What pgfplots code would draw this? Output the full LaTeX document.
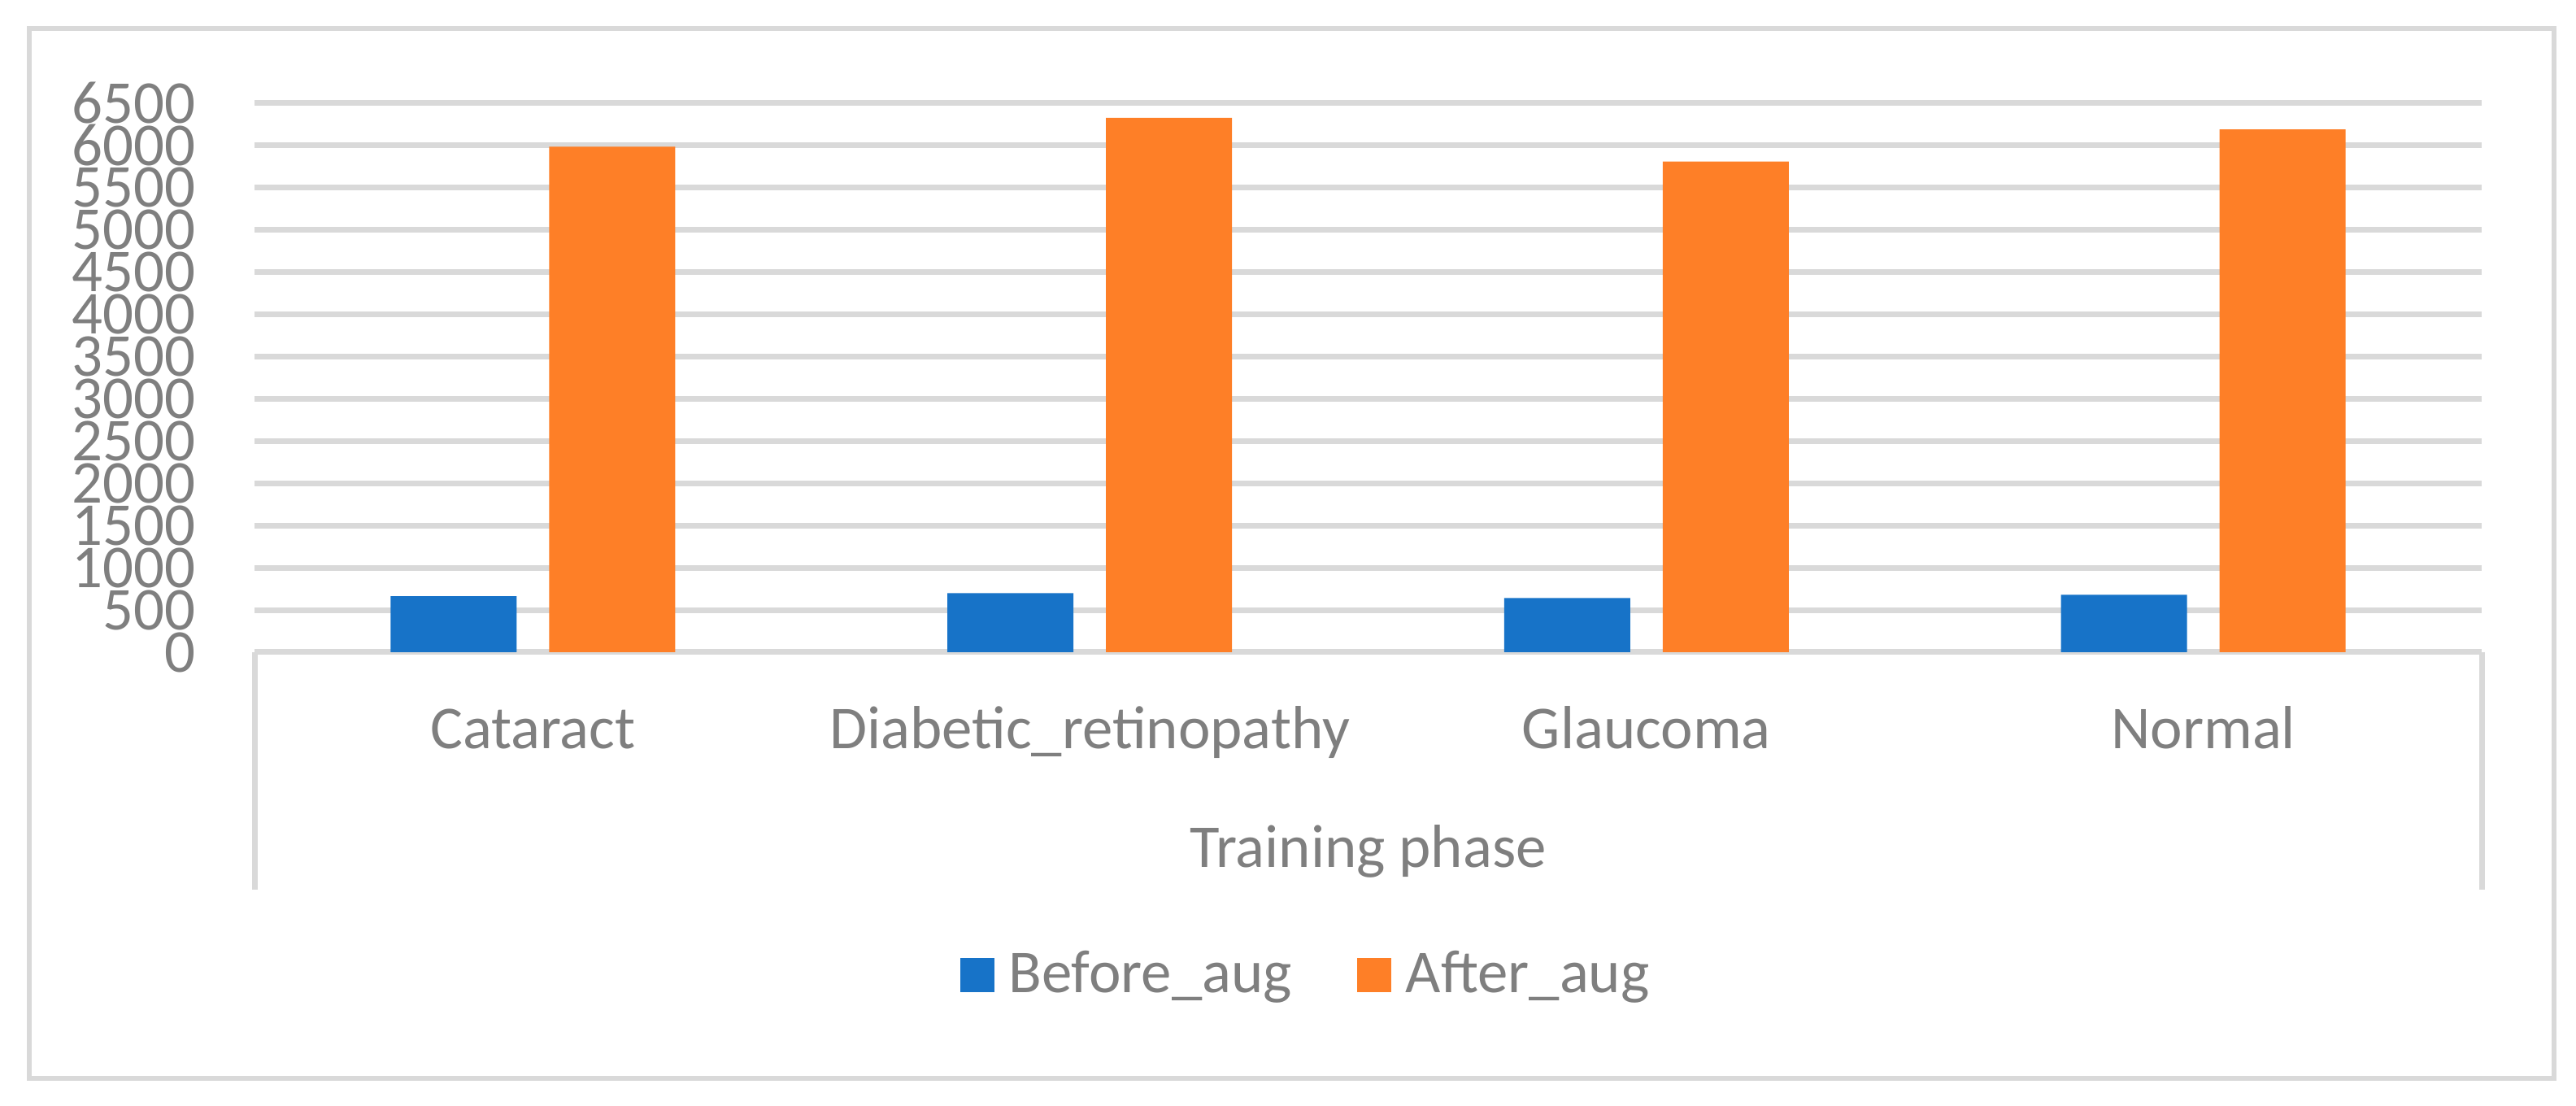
\documentclass[border=0pt]{standalone}
\usepackage{fontspec}
\setmainfont{Carlito}
\usepackage{pgfplots}
\pgfplotsset{compat=1.18}
\definecolor{txt}{HTML}{7F7F7F}
\definecolor{gridc}{HTML}{D9D9D9}
\definecolor{cblue}{HTML}{1773C8}
\definecolor{corange}{HTML}{FE7F27}
\newcommand{\lblfont}{\fontsize{21.3}{25}\selectfont}
\pgfplotsset{ybar legend/.style={legend image code/.code={\fill[##1] (0mm,-2.3mm) rectangle (4.2mm,1.9mm);}}}
\begin{document}
\begin{tikzpicture}
\path[use as bounding box] (0,0) rectangle (316.8mm,136mm);
\draw[gridc, line width=0.6mm] (3.6mm,3.4mm) rectangle (314.1mm,132.5mm);
\begin{axis}[
 name=ax, at={(31.3mm,55.8mm)}, anchor=south west,
 scale only axis, width=273.9mm, height=67.57mm,
 ybar, bar width=15.5mm,
 xmin=-0.5, xmax=3.5, ymin=0, ymax=6500,
 ytick={0,500,...,6500},
 xtick={0,1,2,3},
 xticklabels={Cataract,Diabetic\_retinopathy,Glaucoma,Normal},
 axis line style={draw=none},
 major tick length=0pt,
 ymajorgrids, major grid style={gridc, line width=0.7mm},
 tick label style={font=\lblfont, text=txt},
 /pgf/number format/assume math mode=true,
 /pgf/number format/1000 sep={},
 yticklabel style={anchor=east, inner sep=0pt, xshift=-7.2mm},
 xticklabel style={anchor=base, inner sep=0pt, yshift=-11.9mm},
 xlabel={Training phase},
 xlabel style={at={(axis description cs:0.5,0)}, anchor=base, inner sep=0pt, yshift=-26.5mm, font=\lblfont, text=txt},
 legend columns=2,
 legend style={at={(axis description cs:0.3165,-0.585)}, anchor=west, draw=none, fill=none, inner sep=0pt,
   font=\lblfont, text=txt, nodes={inner sep=0pt},
   /tikz/every odd column/.append style={column sep=1.8mm},
   /tikz/every even column/.append style={column sep=8mm}},
]
\addplot[fill=cblue, draw=none, bar shift=-9.75mm] coordinates {(0,662) (1,698) (2,640) (3,680)};
\addplot[fill=corange, draw=none, bar shift=9.75mm] coordinates {(0,5980) (1,6320) (2,5805) (3,6185)};
\legend{Before\_aug, After\_aug}
\end{axis}
\draw[gridc, line width=0.7mm] (ax.south west) -- ++(0,-29.2mm);
\draw[gridc, line width=0.7mm] (ax.south east) -- ++(0,-29.2mm);
\end{tikzpicture}
\end{document}
